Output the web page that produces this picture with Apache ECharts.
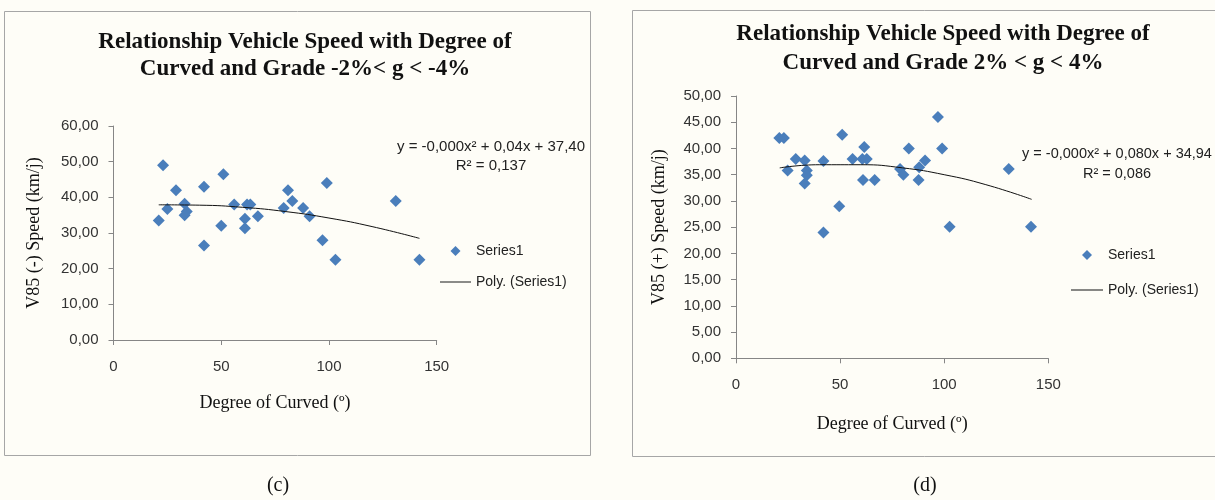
<!DOCTYPE html>
<html lang="en">

<head>
    <meta charset="UTF-8">
    <title>Vehicle Speed vs Degree of Curved</title>
    <style>
        html, body { margin: 0; padding: 0; background: #fefdf7; }
    </style>
</head>

<body>
    <div id="main" style="width: 1215px; height: 500px"></div>
    <script src="https://cdn.jsdelivr.net/npm/echarts@6/dist/echarts.min.js"></script>
    <script type="text/javascript">
        // (c) grade -2% < g < -4%
        var leftX = [23, 51, 29, 42, 99, 81, 83, 131, 33, 25, 56, 62, 63.5, 34, 33, 21, 61, 67, 79, 88, 91, 50, 61, 42, 97, 103, 142];
        var leftY = [49, 46.5, 42, 43, 44, 42, 39, 39, 38.2, 36.7, 38, 38, 38, 36, 35, 33.5, 34, 34.7, 37, 37, 34.7, 32, 31.3, 26.5, 28, 22.5, 22.5];

        // (d) grade 2% < g < 4%
        var rightX = [20.8, 23, 51, 97, 99, 83, 61.6, 28.7, 33, 42, 56, 60.7, 62.8, 90.8, 88, 78.8, 80.4, 24.8, 34, 34, 33, 61, 66.6, 87.7, 131, 49.6, 42, 102.6, 141.7];
        var rightY = [42, 42, 42.6, 46, 40, 40, 40.3, 38, 37.7, 37.6, 38, 38, 38, 37.7, 36.4, 36.1, 35, 35.8, 35.8, 34.9, 33.3, 34, 34, 34, 36.1, 29, 24, 25.1, 25.1];

        // poly trend lines
        var trendX = [21, 40, 60, 80, 100, 120, 142];
        var trendLeftY = [37.9, 37.8, 37.2, 36.0, 34.2, 31.8, 28.5];
        var trendRightY = [36.3, 36.9, 36.9, 36.3, 35.0, 33.1, 30.3];

        var xTicks = [0, 50, 100, 150];

        var titles = [
            'Relationship Vehicle Speed with Degree of\nCurved and Grade -2%< g < -4%',
            'Relationship Vehicle Speed with Degree of\nCurved and Grade 2% < g < 4%'
        ];
        var equations = [
            ['y = -0,000x² + 0,04x + 37,40', 'R² = 0,137'],
            ['y = -0,000x² + 0,080x + 34,94', 'R² = 0,086']
        ];

        function pairs(xs, ys) {
            return xs.map(function (x, i) { return [x, ys[i]]; });
        }

        var myChart = echarts.init(document.getElementById('main'));

        var serif = 'Liberation Serif';
        var sans = 'Liberation Sans';
        var axisGrey = '#868686';
        var blue = '#4a7ebb';

        function xAxisOf(idx, gap) {
            return {
                type: 'value',
                gridIndex: idx,
                min: xTicks[0],
                max: xTicks[xTicks.length - 1],
                interval: 50,
                name: 'Degree of Curved (º)',
                nameLocation: 'middle',
                nameGap: gap,
                nameTextStyle: { fontFamily: serif, fontSize: 18, color: '#111' },
                axisLine: { lineStyle: { color: axisGrey } },
                axisTick: { length: 5, lineStyle: { color: axisGrey } },
                axisLabel: { margin: 19, fontFamily: sans, fontSize: 15, color: '#333' },
                splitLine: { show: false }
            };
        }

        function yAxisOf(idx, max, step, name, gap) {
            return {
                type: 'value',
                gridIndex: idx,
                min: 0,
                max: max,
                interval: step,
                name: name,
                nameLocation: 'middle',
                nameGap: gap,
                nameTextStyle: { fontFamily: serif, fontSize: 18, color: '#111' },
                axisLine: { show: true, lineStyle: { color: axisGrey } },
                axisTick: { show: true, length: 5, lineStyle: { color: axisGrey } },
                axisLabel: {
                    margin: 15, fontFamily: sans, fontSize: 15, color: '#333',
                    formatter: function (v) { return v.toFixed(2).replace('.', ','); }
                },
                splitLine: { show: false }
            };
        }

        var legendData = [
            { name: 'Series1', icon: 'path://M5,0 L10,5 L5,10 L0,5 Z' },
            { name: 'Poly. (Series1)', icon: 'path://M0,0 L32,0 L32,1 L0,1 Z' }
        ];

        var option = {
            backgroundColor: '#fefdf7',
            animation: false,
            title: [{
                text: titles[0],
                left: 300,
                top: 24,
                textAlign: 'center',
                textStyle: { fontFamily: serif, fontWeight: 'bold', fontSize: 23, lineHeight: 27, color: '#111' }
            }, {
                text: titles[1],
                left: 938,
                top: 15,
                textAlign: 'center',
                textStyle: { fontFamily: serif, fontWeight: 'bold', fontSize: 23, lineHeight: 29, color: '#111' }
            }],
            legend: [{
                orient: 'vertical',
                left: 440,
                top: 244,
                padding: 0,
                itemWidth: 31,
                itemHeight: 10,
                itemGap: 17,
                symbolKeepAspect: true,
                textStyle: { fontFamily: sans, fontSize: 14, color: '#222' },
                data: legendData
            }, {
                orient: 'vertical',
                left: 1071,
                top: 248,
                padding: 0,
                itemWidth: 32,
                itemHeight: 10,
                itemGap: 21,
                symbolKeepAspect: true,
                textStyle: { fontFamily: sans, fontSize: 14, color: '#222' },
                data: legendData
            }],
            grid: [
                { left: 113.5, top: 126, width: 323.2, height: 214 },
                { left: 736, top: 96, width: 312.3, height: 262.3 }
            ],
            xAxis: [xAxisOf(0, 54), xAxisOf(1, 57)],
            yAxis: [
                yAxisOf(0, 60, 10, 'V85 (-) Speed (km/j)', 70),
                yAxisOf(1, 50, 5, 'V85 (+) Speed (km/j)', 68)
            ],
            series: [{
                name: 'Series1',
                type: 'scatter',
                xAxisIndex: 0,
                yAxisIndex: 0,
                symbol: 'diamond',
                symbolSize: 12,
                itemStyle: { color: blue, opacity: 1 },
                data: pairs(leftX, leftY)
            }, {
                name: 'Poly. (Series1)',
                type: 'line',
                xAxisIndex: 0,
                yAxisIndex: 0,
                smooth: true,
                symbol: 'none',
                lineStyle: { color: '#111', width: 1 },
                itemStyle: { color: '#111' },
                data: pairs(trendX, trendLeftY)
            }, {
                name: 'Series1',
                type: 'scatter',
                xAxisIndex: 1,
                yAxisIndex: 1,
                symbol: 'diamond',
                symbolSize: 12,
                itemStyle: { color: blue, opacity: 1 },
                data: pairs(rightX, rightY)
            }, {
                name: 'Poly. (Series1)',
                type: 'line',
                xAxisIndex: 1,
                yAxisIndex: 1,
                smooth: true,
                symbol: 'none',
                lineStyle: { color: '#111', width: 1 },
                itemStyle: { color: '#111' },
                data: pairs(trendX, trendRightY)
            }],
            graphic: [
                // chart frames
                { type: 'rect', shape: { x: 4.5, y: 11.5, width: 586, height: 444 }, style: { fill: 'none', stroke: '#a6a6a6', lineWidth: 1 }, silent: true },
                { type: 'rect', shape: { x: 632.5, y: 10.5, width: 600, height: 446 }, style: { fill: 'none', stroke: '#a6a6a6', lineWidth: 1 }, silent: true },
                // trendline equations
                { type: 'text', x: 491, y: 147, style: { text: equations[0][0], align: 'center', verticalAlign: 'middle', font: '15px "Liberation Sans"', fill: '#222' } },
                { type: 'text', x: 491, y: 166, style: { text: equations[0][1], align: 'center', verticalAlign: 'middle', font: '15px "Liberation Sans"', fill: '#222' } },
                { type: 'text', x: 1117, y: 154, style: { text: equations[1][0], align: 'center', verticalAlign: 'middle', font: '14.5px "Liberation Sans"', fill: '#222' } },
                { type: 'text', x: 1117, y: 174, style: { text: equations[1][1], align: 'center', verticalAlign: 'middle', font: '14.5px "Liberation Sans"', fill: '#222' } },
                // panel captions
                { type: 'text', x: 278, y: 486, style: { text: '(c)', align: 'center', verticalAlign: 'middle', font: '20px "Liberation Serif"', fill: '#111' } },
                { type: 'text', x: 925, y: 486, style: { text: '(d)', align: 'center', verticalAlign: 'middle', font: '20px "Liberation Serif"', fill: '#111' } }
            ]
        };

        myChart.setOption(option);

        window.onresize = function () {
            myChart.resize();
        };
    </script>

</body>

</html>
